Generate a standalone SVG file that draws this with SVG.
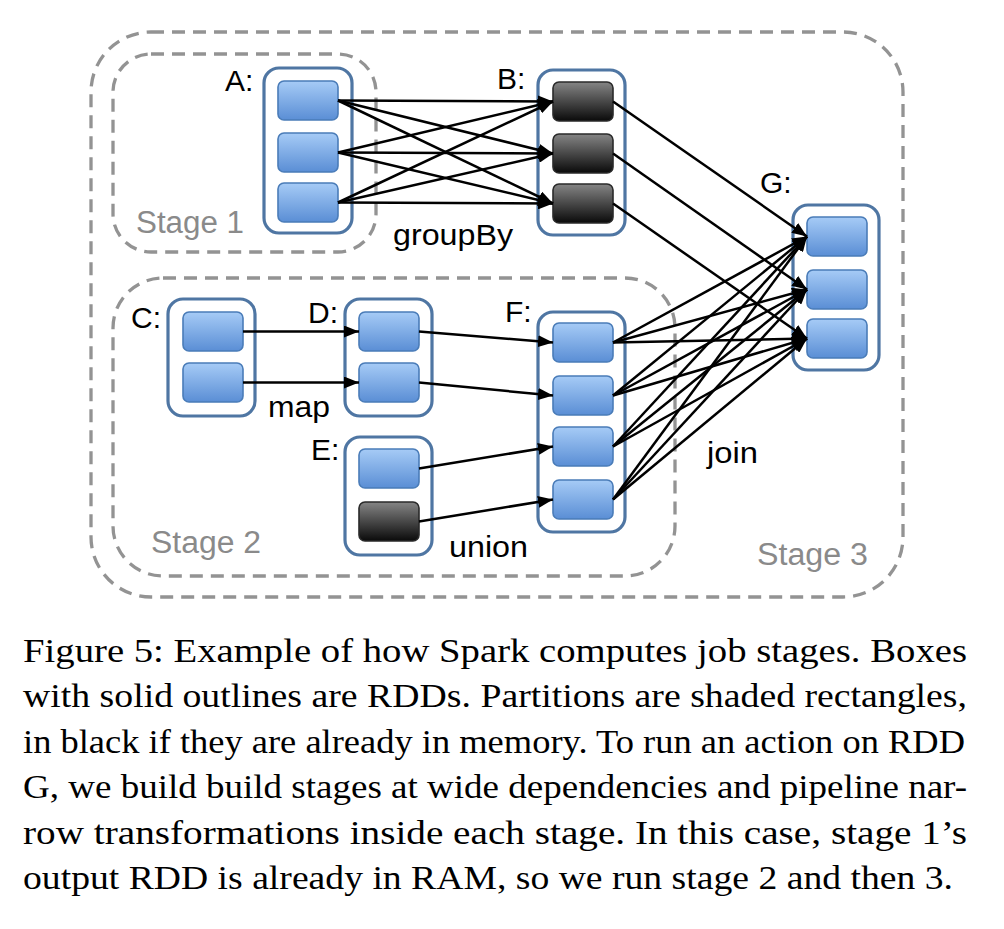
<svg xmlns="http://www.w3.org/2000/svg" width="1004" height="929" viewBox="0 0 1004 929">
<style>
.stage{fill:none;stroke:#939393;stroke-width:3.3;stroke-dasharray:13 8}
.rdd{fill:#fff;stroke:#4f76a3;stroke-width:3.2}
.pb{fill:url(#gb);stroke:#4a7cb8;stroke-width:1.6}
.pk{fill:url(#gk);stroke:#2a2a2a;stroke-width:1.6}
.lbl{font-family:"Liberation Sans",Arial,sans-serif;font-size:30px;fill:#000}
.stg{font-family:"Liberation Sans",Arial,sans-serif;font-size:31px;fill:#8a8a8a}
.cap{font-family:"Liberation Serif","Times New Roman",serif;font-size:34px;fill:#000}
#edges line{stroke:#000;stroke-width:2.5;marker-end:url(#ah)}
</style>
<defs>
<linearGradient id="gb" x1="0" y1="0" x2="0" y2="1">
<stop offset="0" stop-color="#a6cbf6"/>
<stop offset="1" stop-color="#5a8ed5"/>
</linearGradient>
<linearGradient id="gk" x1="0" y1="0" x2="0" y2="1">
<stop offset="0" stop-color="#858585"/>
<stop offset="1" stop-color="#0a0a0a"/>
</linearGradient>
<marker id="ah" markerUnits="userSpaceOnUse" markerWidth="16" markerHeight="12" refX="15" refY="6" orient="auto">
<path d="M0,0 L15,6 L0,12 z" fill="#000"/>
</marker>
</defs>
<rect width="1004" height="929" fill="#fff"/>

<g id="stages">
<rect class="stage" x="91" y="32" width="812" height="565" rx="60"/>
<rect class="stage" x="113" y="54" width="263" height="198" rx="38"/>
<rect class="stage" x="113" y="278" width="562" height="298" rx="50"/>
<text class="stg" x="136" y="233" textLength="108" lengthAdjust="spacingAndGlyphs">Stage 1</text>
<text class="stg" x="151" y="553" textLength="110" lengthAdjust="spacingAndGlyphs">Stage 2</text>
<text class="stg" x="757" y="565" textLength="111" lengthAdjust="spacingAndGlyphs">Stage 3</text>
</g>

<g id="A">
<rect class="rdd" x="264" y="68" width="88" height="165" rx="15"/>
<rect class="pb" x="278" y="81" width="60" height="39" rx="6"/>
<rect class="pb" x="278" y="133" width="60" height="39" rx="6"/>
<rect class="pb" x="278" y="183" width="60" height="39" rx="6"/>
<text class="lbl" x="225" y="91">A:</text>
</g>
<g id="B">
<rect class="rdd" x="538" y="70" width="87" height="165" rx="15"/>
<rect class="pk" x="553" y="82" width="60" height="39" rx="6"/>
<rect class="pk" x="553" y="134" width="60" height="39" rx="6"/>
<rect class="pk" x="553" y="184" width="60" height="39" rx="6"/>
<text class="lbl" x="497" y="89">B:</text>
</g>
<g id="G">
<rect class="rdd" x="793" y="205" width="86" height="165" rx="15"/>
<rect class="pb" x="807" y="217" width="60" height="39" rx="6"/>
<rect class="pb" x="807" y="270" width="60" height="39" rx="6"/>
<rect class="pb" x="807" y="319" width="60" height="39" rx="6"/>
<text class="lbl" x="760" y="193">G:</text>
</g>
<g id="C">
<rect class="rdd" x="168" y="299" width="87" height="117" rx="15"/>
<rect class="pb" x="183" y="312" width="60" height="39" rx="6"/>
<rect class="pb" x="183" y="363" width="60" height="39" rx="6"/>
<text class="lbl" x="131" y="328">C:</text>
</g>
<g id="D">
<rect class="rdd" x="345" y="299" width="87" height="117" rx="15"/>
<rect class="pb" x="359" y="312" width="60" height="39" rx="6"/>
<rect class="pb" x="359" y="363" width="60" height="39" rx="6"/>
<text class="lbl" x="308" y="323">D:</text>
</g>
<g id="E">
<rect class="rdd" x="345" y="437" width="87" height="118" rx="15"/>
<rect class="pb" x="359" y="449" width="60" height="39" rx="6"/>
<rect class="pk" x="359" y="502" width="60" height="39" rx="6"/>
<text class="lbl" x="311" y="460">E:</text>
</g>
<g id="F">
<rect class="rdd" x="538" y="312" width="87" height="220" rx="15"/>
<rect class="pb" x="553" y="323" width="60" height="39" rx="6"/>
<rect class="pb" x="553" y="376" width="60" height="39" rx="6"/>
<rect class="pb" x="553" y="427" width="60" height="39" rx="6"/>
<rect class="pb" x="553" y="480" width="60" height="39" rx="6"/>
<text class="lbl" x="505" y="322">F:</text>
</g>

<g id="edges">
<line x1="338" y1="100.5" x2="553" y2="101.5"/>
<line x1="338" y1="100.5" x2="553" y2="153.5"/>
<line x1="338" y1="100.5" x2="553" y2="203.5"/>
<line x1="338" y1="152.5" x2="553" y2="101.5"/>
<line x1="338" y1="152.5" x2="553" y2="153.5"/>
<line x1="338" y1="152.5" x2="553" y2="203.5"/>
<line x1="338" y1="202.5" x2="553" y2="101.5"/>
<line x1="338" y1="202.5" x2="553" y2="153.5"/>
<line x1="338" y1="202.5" x2="553" y2="203.5"/>
<line x1="613" y1="101.5" x2="807" y2="236.5"/>
<line x1="613" y1="153.5" x2="807" y2="289.5"/>
<line x1="613" y1="203.5" x2="807" y2="338.5"/>
<line x1="243" y1="331.5" x2="359" y2="331.5"/>
<line x1="243" y1="382.5" x2="359" y2="382.5"/>
<line x1="419" y1="331.5" x2="553" y2="342.5"/>
<line x1="419" y1="382.5" x2="553" y2="395.5"/>
<line x1="419" y1="468.5" x2="553" y2="446.5"/>
<line x1="419" y1="521.5" x2="553" y2="499.5"/>
<line x1="613" y1="342.5" x2="807" y2="236.5"/>
<line x1="613" y1="342.5" x2="807" y2="289.5"/>
<line x1="613" y1="342.5" x2="807" y2="338.5"/>
<line x1="613" y1="395.5" x2="807" y2="236.5"/>
<line x1="613" y1="395.5" x2="807" y2="289.5"/>
<line x1="613" y1="395.5" x2="807" y2="338.5"/>
<line x1="613" y1="446.5" x2="807" y2="236.5"/>
<line x1="613" y1="446.5" x2="807" y2="289.5"/>
<line x1="613" y1="446.5" x2="807" y2="338.5"/>
<line x1="613" y1="499.5" x2="807" y2="236.5"/>
<line x1="613" y1="499.5" x2="807" y2="289.5"/>
<line x1="613" y1="499.5" x2="807" y2="338.5"/>
</g>

<g id="edge-labels">
<text class="lbl" x="393" y="245" textLength="120" lengthAdjust="spacingAndGlyphs">groupBy</text>
<text class="lbl" x="268" y="417" textLength="62" lengthAdjust="spacingAndGlyphs">map</text>
<text class="lbl" x="449" y="557" textLength="79" lengthAdjust="spacingAndGlyphs">union</text>
<text class="lbl" x="707" y="463" textLength="51" lengthAdjust="spacingAndGlyphs">join</text>
</g>

<g id="caption">
<text class="cap" x="23" y="662" textLength="944" lengthAdjust="spacingAndGlyphs">Figure 5: Example of how Spark computes job stages. Boxes</text>
<text class="cap" x="23" y="707" textLength="944" lengthAdjust="spacingAndGlyphs">with solid outlines are RDDs. Partitions are shaded rectangles,</text>
<text class="cap" x="23" y="753" textLength="942" lengthAdjust="spacingAndGlyphs">in black if they are already in memory. To run an action on RDD</text>
<text class="cap" x="23" y="798" textLength="944" lengthAdjust="spacingAndGlyphs">G, we build build stages at wide dependencies and pipeline nar-</text>
<text class="cap" x="23" y="844" textLength="944" lengthAdjust="spacingAndGlyphs">row transformations inside each stage. In this case, stage 1’s</text>
<text class="cap" x="23" y="889" textLength="930" lengthAdjust="spacingAndGlyphs">output RDD is already in RAM, so we run stage 2 and then 3.</text>
</g>
</svg>
